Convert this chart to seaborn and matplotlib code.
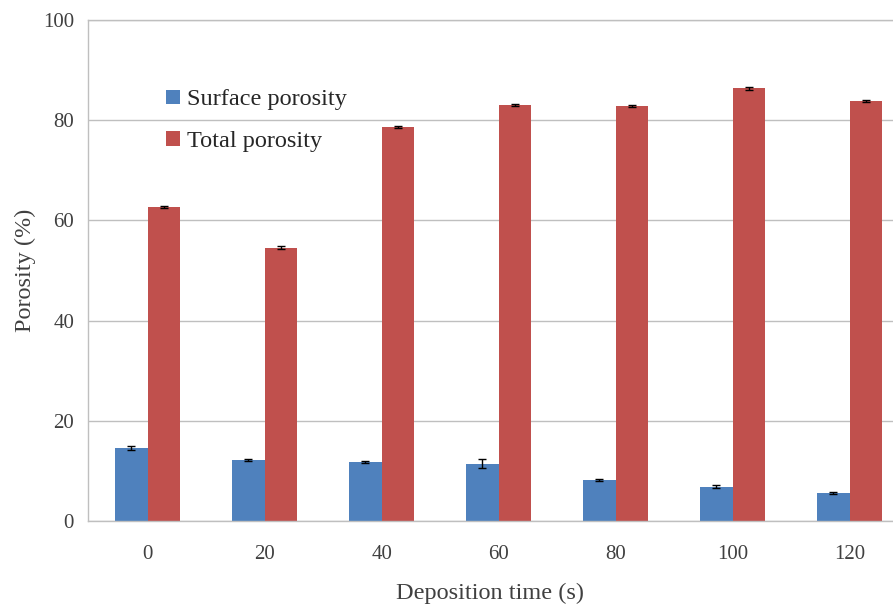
import matplotlib
matplotlib.use("Agg")
import matplotlib.pyplot as plt
import pandas as pd
import seaborn as sns

times = ["0", "20", "40", "60", "80", "100", "120"]
surface = [14.6, 12.2, 11.8, 11.5, 8.2, 6.9, 5.6]
surface_err = [0.35, 0.25, 0.25, 0.9, 0.25, 0.35, 0.25]
total = [62.6, 54.6, 78.7, 83.0, 82.8, 86.4, 83.8]
total_err = [0.2, 0.25, 0.2, 0.25, 0.2, 0.3, 0.2]
series = ["Surface porosity", "Total porosity"]
colors = ["#4F81BD", "#C0504D"]

df = pd.DataFrame({
    "time": times * 2,
    "porosity": surface + total,
    "err": surface_err + total_err,
    "series": [series[0]] * len(times) + [series[1]] * len(times),
})

sns.set_theme(style="white")
plt.rcParams["font.family"] = ["Liberation Serif", "DejaVu Serif"]

fig = plt.figure(figsize=(8.93, 6.06), dpi=100)
ax = fig.add_axes([0.0985, 0.14, 0.9015, 0.827])
sns.barplot(data=df, x="time", y="porosity", hue="series", order=times, hue_order=series,
            palette=colors, width=0.56, gap=0, errorbar=None, saturation=1,
            linewidth=0, ax=ax)

for container, name in zip(ax.containers, series):
    sub = df[df["series"] == name]
    xs = [bar.get_x() + bar.get_width() / 2 for bar in container]
    ax.errorbar(xs, sub["porosity"], yerr=sub["err"], fmt="none", ecolor="black",
                elinewidth=1, capsize=3, capthick=1, zorder=5)

ax.set_ylim(0, 100)
ax.set_yticks([0, 20, 40, 60, 80, 100])
ax.set_xlim(-0.51, 6.37)
ax.yaxis.grid(True, color="#BFBFBF", linewidth=1)
ax.set_axisbelow(True)
for side in ["left", "top", "bottom"]:
    ax.spines[side].set_color("#BFBFBF")
    ax.spines[side].set_linewidth(1)
ax.spines["right"].set_visible(False)
ax.tick_params(axis="y", length=0, labelsize=15, colors="#404040", pad=10)
ax.tick_params(axis="x", length=0, labelsize=15, colors="#404040", pad=17)
ax.set_xlabel("Deposition time (s)", fontsize=17.5, color="#404040", labelpad=14)
ax.set_ylabel("Porosity (%)", fontsize=17.5, color="#404040", labelpad=5)

leg = ax.legend(loc="upper left", bbox_to_anchor=(0.07, 0.905), frameon=False, fontsize=17.5,
                handlelength=0.55, handleheight=0.55, handletextpad=0.3, labelspacing=0.85)
for t in leg.get_texts():
    t.set_color("#262626")

fig.savefig("out.png", dpi=100)
